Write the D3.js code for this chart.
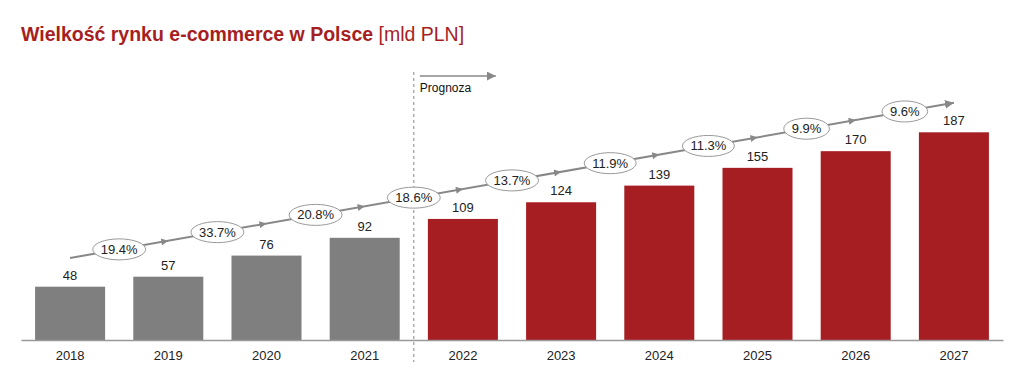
<!DOCTYPE html>
<html><head><meta charset="utf-8">
<script src="https://cdn.jsdelivr.net/npm/d3@7/dist/d3.min.js"></script>
<style>body{margin:0;background:#fff;} text{font-family:"Liberation Sans",Arial,sans-serif;}</style>
</head><body>
<svg id="c" width="1024" height="388"></svg>
<script>
const years = ["2018","2019","2020","2021","2022","2023","2024","2025","2026","2027"];
const values = [48,57,76,92,109,124,139,155,170,187];
const forecast = [false,false,false,false,true,true,true,true,true,true];
const growth = ["19.4%","33.7%","20.8%","18.6%","13.7%","11.9%","11.3%","9.9%","9.6%"];

const svg = d3.select("#c");
const x = d3.scaleBand().domain(years).range([21,1003]).paddingInner(0.287).paddingOuter(0.1435);
const y = d3.scaleLinear().domain([0,187]).range([340,132.3]);
const bw = x.bandwidth(), step = x.step();
const cx = d => x(d) + bw/2;

// title
const t = svg.append("text").attr("x",21).attr("y",40.5).attr("font-size",19.5).attr("fill","#A61E22");
t.append("tspan").attr("font-weight","bold").text("Wielkość rynku e-commerce w Polsce");
t.append("tspan").text(" [mld PLN]");

// bars
svg.selectAll("rect.bar").data(years).enter().append("rect")
  .attr("x",d=>x(d)).attr("width",bw)
  .attr("y",(d,i)=>y(values[i])).attr("height",(d,i)=>y(0)-y(values[i]))
  .attr("fill",(d,i)=>forecast[i]?"#A61E22":"#7F7F7F");

// value labels
svg.selectAll("text.val").data(years).enter().append("text")
  .attr("x",d=>cx(d)).attr("y",(d,i)=>y(values[i])-7)
  .attr("text-anchor","middle").attr("font-size",13).attr("fill","#222")
  .text((d,i)=>values[i]);

// axis
const ax = svg.append("g").attr("transform","translate(0,340)").call(d3.axisBottom(x).tickSize(0).tickPadding(11));
ax.select(".domain").attr("stroke","#999").attr("stroke-width",1.5);
ax.selectAll("text").attr("font-size",13).attr("fill","#222").attr("font-family","Liberation Sans, Arial, sans-serif");

// forecast divider
const divX = x("2022") - (step-bw)/2;
svg.append("line").attr("x1",divX).attr("x2",divX).attr("y1",72).attr("y2",362)
  .attr("stroke","#888").attr("stroke-dasharray","3,3").attr("stroke-width",1);

const defs = svg.append("defs");
defs.append("marker").attr("id","ah").attr("viewBox","0 0 10 10").attr("refX",10).attr("refY",5)
  .attr("markerWidth",9).attr("markerHeight",9).attr("markerUnits","userSpaceOnUse").attr("orient","auto")
  .append("path").attr("d","M0,0L10,5L0,10Z").attr("fill","#888");
defs.append("marker").attr("id","ahs").attr("viewBox","0 0 10 10").attr("refX",10).attr("refY",5)
  .attr("markerWidth",8).attr("markerHeight",7).attr("markerUnits","userSpaceOnUse").attr("orient","auto")
  .append("path").attr("d","M0,0L10,5L0,10Z").attr("fill","#888");

// Prognoza arrow
svg.append("line").attr("x1",divX+6).attr("x2",divX+82).attr("y1",76).attr("y2",76)
  .attr("stroke","#888").attr("stroke-width",1.3).attr("marker-end","url(#ah)");
svg.append("text").attr("x",divX+6).attr("y",92).attr("font-size",12).attr("fill","#111").text("Prognoza");

// growth line
const lineY = d3.scaleLinear().domain([70,953]).range([258,103]);
const x0 = cx(years[0]), x1 = cx(years[years.length-1]);
svg.append("line").attr("x1",x0).attr("y1",lineY(x0)).attr("x2",x1).attr("y2",lineY(x1))
  .attr("stroke","#888").attr("stroke-width",2).attr("marker-end","url(#ah)");
// small arrowheads at interior band centers
years.slice(1,-1).forEach(d=>{
  const px = cx(d);
  svg.append("line").attr("x1",px-6).attr("y1",lineY(px-6)).attr("x2",px).attr("y2",lineY(px))
    .attr("stroke","none").attr("marker-end","url(#ahs)");
});

// growth ellipses
growth.forEach((g,i)=>{
  const ex = cx(years[i]) + step/2, ey = lineY(ex);
  const grp = svg.append("g");
  const el = grp.append("ellipse").attr("cx",ex).attr("cy",ey).attr("ry",10.5)
    .attr("fill","#fff").attr("stroke","#999").attr("stroke-width",1);
  const tx = grp.append("text").attr("x",ex).attr("y",ey+4.5).attr("text-anchor","middle")
    .attr("font-size",13).attr("fill","#222").text(g);
  const w = tx.node().getComputedTextLength();
  el.attr("rx",w/2+8);
});
</script>
</body></html>
